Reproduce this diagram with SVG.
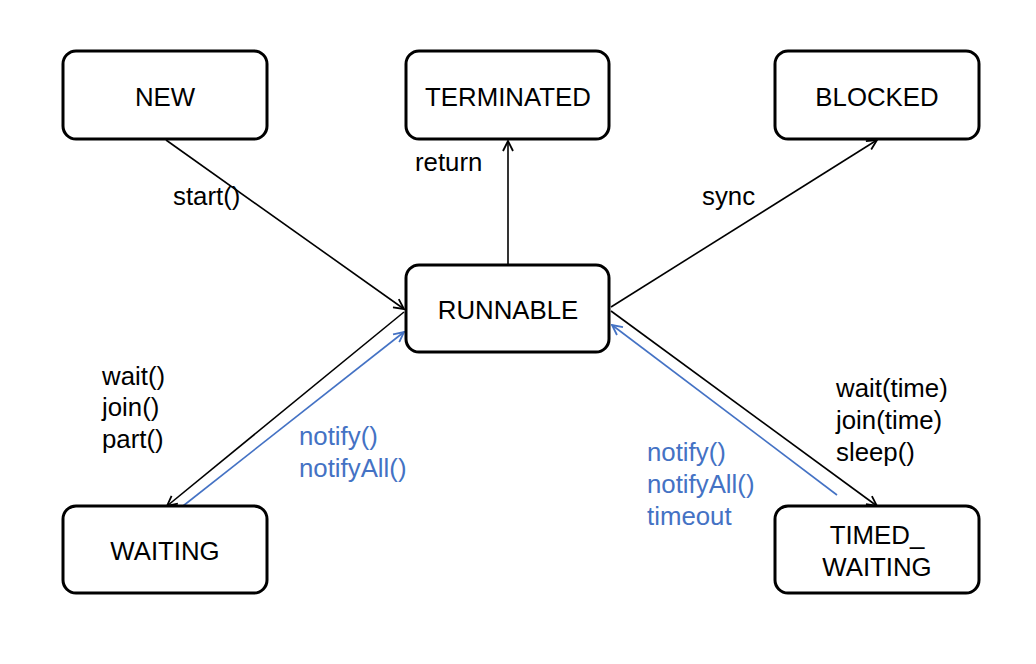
<svg xmlns="http://www.w3.org/2000/svg" width="1036" height="664" viewBox="0 0 1036 664">
<defs>
<style>
.box{fill:#fff;stroke:#000;stroke-width:3}
.t{font-family:"Liberation Sans",Arial,sans-serif;font-size:25.8px;fill:#000}
.c{text-anchor:middle}
.b{fill:#4472c4}
.ln{fill:none;stroke:#000;stroke-width:1.6}
.bl{fill:none;stroke:#4472c4;stroke-width:1.6}
</style>
<marker id="ak" viewBox="0 0 12 12" refX="11" refY="6" markerWidth="12" markerHeight="12" markerUnits="userSpaceOnUse" orient="auto"><path d="M1,1 L11,6 L1,11" fill="none" stroke="#000" stroke-width="1.8"/></marker>
<marker id="ab" viewBox="0 0 12 12" refX="11" refY="6" markerWidth="12" markerHeight="12" markerUnits="userSpaceOnUse" orient="auto"><path d="M1,1 L11,6 L1,11" fill="none" stroke="#4472c4" stroke-width="1.8"/></marker>
</defs>
<rect width="1036" height="664" fill="#fff"/>
<g id="connectors">
<line class="ln" x1="166" y1="140" x2="404" y2="309" marker-end="url(#ak)"/>
<line class="ln" x1="508" y1="265" x2="508" y2="141" marker-end="url(#ak)"/>
<line class="ln" x1="611" y1="307" x2="877" y2="140" marker-end="url(#ak)"/>
<line class="ln" x1="404" y1="312" x2="167" y2="506" marker-end="url(#ak)"/>
<line class="bl" x1="183" y1="506" x2="404" y2="332" marker-end="url(#ab)"/>
<line class="ln" x1="611" y1="311" x2="877" y2="506" marker-end="url(#ak)"/>
<line class="bl" x1="837" y1="495" x2="612" y2="325" marker-end="url(#ab)"/>
<text class="t" x="173" y="205">start()</text>
<text class="t" x="415" y="171">return</text>
<text class="t" x="702" y="205">sync</text>
<text class="t" x="102" y="385">wait()</text>
<text class="t" x="102" y="416">join()</text>
<text class="t" x="102" y="448">part()</text>
<text class="t b" x="299" y="445">notify()</text>
<text class="t b" x="299" y="477">notifyAll()</text>
<text class="t" x="836" y="397">wait(time)</text>
<text class="t" x="836" y="429">join(time)</text>
<text class="t" x="836" y="461">sleep()</text>
<text class="t b" x="647" y="461">notify()</text>
<text class="t b" x="647" y="493">notifyAll()</text>
<text class="t b" x="647" y="525">timeout</text>
</g>
<g id="NEW"><rect class="box" x="63" y="51" width="204" height="88" rx="13"/><text class="t c" x="165" y="106">NEW</text></g>
<g id="TERMINATED"><rect class="box" x="406" y="51" width="203" height="88" rx="13"/><text class="t c" x="508" y="106">TERMINATED</text></g>
<g id="BLOCKED"><rect class="box" x="775" y="51" width="204" height="88" rx="13"/><text class="t c" x="877" y="106">BLOCKED</text></g>
<g id="RUNNABLE"><rect class="box" x="406" y="265" width="203" height="87" rx="13"/><text class="t c" x="508" y="319">RUNNABLE</text></g>
<g id="WAITING"><rect class="box" x="63" y="506" width="204" height="87" rx="13"/><text class="t c" x="165" y="560">WAITING</text></g>
<g id="TIMED_WAITING"><rect class="box" x="775" y="506" width="204" height="87" rx="13"/><text class="t c" x="877" y="544">TIMED_</text><text class="t c" x="877" y="576">WAITING</text></g>
</svg>
